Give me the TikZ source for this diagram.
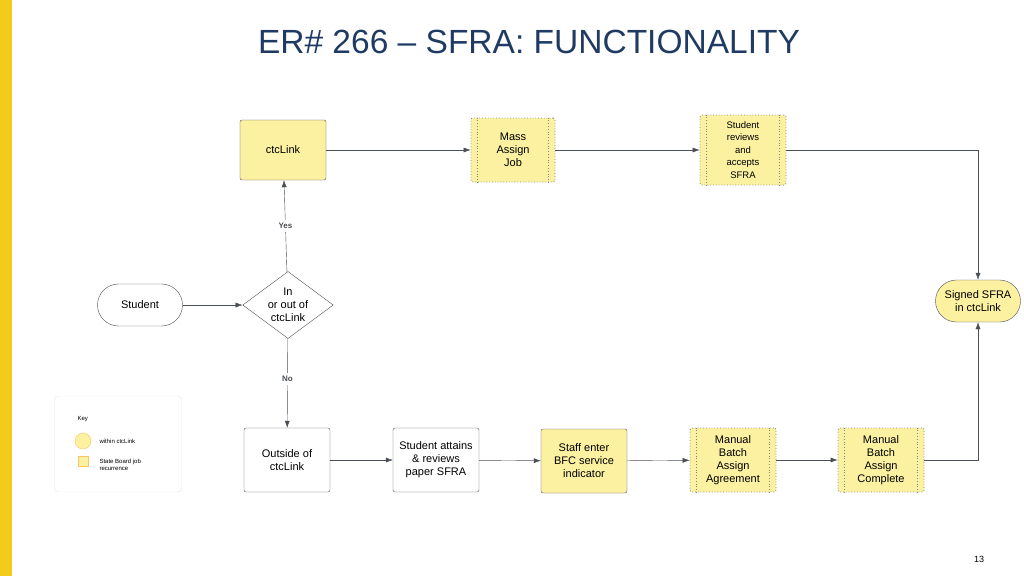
\documentclass[tikz,border=0pt]{standalone}
\usepackage{fontspec}
\setmainfont{Liberation Sans}
\usetikzlibrary{positioning, arrows.meta, shapes.geometric}
\definecolor{boxyellow}{HTML}{FBF1A1}
\definecolor{baryellow}{HTML}{F2CB1B}
\definecolor{titleblue}{HTML}{1F3B63}
\definecolor{linegray}{HTML}{4A4F55}
\tikzset{
  box/.style={draw=linegray, rounded corners=2pt, minimum width=86pt, minimum height=64pt, align=center, font=\fontsize{11}{13}\selectfont},
  ctc/.style={box, fill=boxyellow},
  job/.style={box, fill=boxyellow, draw=linegray!70, dotted, thick},
  term/.style={draw=linegray, rounded corners=21pt, minimum width=85pt, minimum height=42pt, align=center, font=\fontsize{11}{13}\selectfont},
  flow/.style={draw=linegray, -{Latex[length=7pt,width=5pt]}},
  lbl/.style={fill=white, font=\fontsize{8}{9}\selectfont\bfseries, text=linegray}
}
\begin{document}
\begin{tikzpicture}[x=1pt, y=-1pt]
  \useasboundingbox (0,0) rectangle (1024,576);
  \fill[baryellow] (0,0) rectangle (12,576);
  \node[text=titleblue] (title) at (529,42) {\resizebox{542pt}{!}{\fontsize{30}{32}\selectfont ER\# 266 – SFRA: FUNCTIONALITY}};
  \node[font=\fontsize{9}{10}\selectfont] (page) at (979,559) {13};

  % Nodes
  \node[ctc, minimum height=60pt] (ctc) at (283,150) {ctcLink};
  \node[job, minimum width=84pt] (mass) at (513,150) {Mass\\Assign\\Job};
  \node[job, minimum height=70pt, font=\fontsize{9.5}{12.5}\selectfont] (review) at (743,150) {Student\\reviews\\and\\accepts\\SFRA};
  \node[term, fill=boxyellow] (signed) at (978,301) {Signed SFRA\\in ctcLink};
  \node[term] (student) at (140,305) {Student};
  \node[diamond, draw=linegray, aspect=1.35, inner sep=1pt, align=center, font=\fontsize{11}{13}\selectfont] (choice) at (288,305) {In\\or out of\\ctcLink};
  \node[box] (outside) at (287,460) {Outside of\\ctcLink};
  \node[box] (attains) at (436,460) {Student attains\\\& reviews\\paper SFRA};
  \node[ctc] (staff) at (584,461) {Staff enter\\BFC service\\indicator};
  \node[job] (agree) at (733,460) {Manual\\Batch\\Assign\\Agreement};
  \node[job] (complete) at (881,460) {Manual\\Batch\\Assign\\Complete};
  \foreach \n in {mass, review, agree, complete}
    \draw[linegray!70, dotted, thick] ([xshift=7pt]\n.north west) -- ([xshift=7pt]\n.south west)
      ([xshift=-7pt]\n.north east) -- ([xshift=-7pt]\n.south east);

  % Key
  \node[draw=black!10, rounded corners=4pt, minimum width=127pt, minimum height=96pt] (key) at (118,444) {};
  \node[font=\fontsize{6}{7}\selectfont, anchor=west] (keyt) at (74,419) {Key};
  \node[circle, draw=boxyellow!60!orange, fill=boxyellow, minimum size=16pt] (kc) at (83,441) {};
  \node[font=\fontsize{6}{7}\selectfont, anchor=west] (kct) at (96,441) {within ctcLink};
  \node[draw=boxyellow!60!orange, fill=boxyellow, minimum size=10pt] (ks) at (83,461) {};
  \node[font=\fontsize{6}{7}\selectfont, anchor=west, align=left] (kst) at (96,465) {State Board job\\recurrence};

  % Edges
  \draw[flow] (student) -- (choice);
  \draw[flow] (choice) -- node[lbl] {Yes} (ctc);
  \draw[flow] (choice) -- node[lbl, pos=0.45] {No} (outside);
  \draw[flow] (ctc) -- (mass);
  \draw[flow] (mass) -- (review);
  \draw[flow] (review) -| (signed);
  \draw[flow] (outside) -- (attains);
  \draw[flow] (attains) -- (staff);
  \draw[flow] (staff) -- (agree);
  \draw[flow] (agree) -- (complete);
  \draw[flow] (complete) -| (signed);
\end{tikzpicture}
\end{document}
